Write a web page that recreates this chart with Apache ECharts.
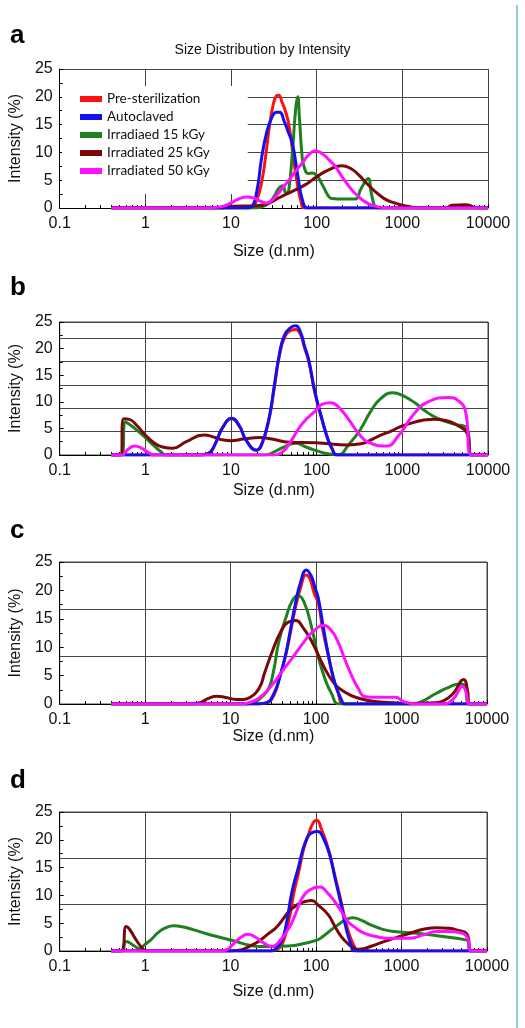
<!DOCTYPE html>
<html><head><meta charset="utf-8">
<script src="https://cdn.jsdelivr.net/npm/echarts@6/dist/echarts.min.js"></script>
<style>html,body{margin:0;padding:0;background:#fff}#c{width:525px;height:1028px}</style>
</head><body><div id="c"></div>
<script>
// ---------- DATA ----------
const seriesNames = ['Pre-sterilization', 'Autoclaved', 'Irradiaed 15 kGy', 'Irradiated 25 kGy', 'Irradiated 50 kGy'];
const panelLetters = ['a', 'b', 'c', 'd'];
const chartTitle = 'Size Distribution by Intensity';
const xName = 'Size (d.nm)';
const yName = 'Intensity (%)';

// Panel a  [size (d.nm), intensity (%)]
const a_pre  = [[0.4,0],[10,0],[17,0],[20,1.5],[23,5],[25.7,10],[28,14.5],[31,18.5],[34,20.2],[36,20.3],[39,19.2],[44,17],[48,14.5],[53,9.5],[60,3.9],[66,1],[71,0],[100,0],[10000,0]];
const a_auto = [[0.4,0],[10,0],[15,0],[17.3,0.2],[20,3],[22.6,8.7],[26,13.5],[30,16.3],[34,17.2],[37,17.2],[42,15.5],[47,13.5],[52,11.7],[60,6],[68,1.5],[78,0],[100,0],[10000,0]];
const a_15   = [[0.4,0],[10,0],[20,0],[26,0.6],[31,1.8],[36,3.5],[40,4],[44,2.7],[47,3],[52,10],[57,18],[60,20],[63,16],[67,10],[71,7.5],[80,6.2],[89,6.3],[100,5.9],[120,3.8],[138,2.1],[150,1.7],[200,1.6],[282,1.6],[330,3.5],[400,5.3],[430,3],[470,0.5],[500,0],[1000,0],[10000,0]];
const a_25   = [[0.4,0],[8,0],[10,0.3],[20,0.4],[28,0.9],[36,1.8],[52,3],[74,4.2],[100,5.6],[140,6.9],[197,7.6],[250,7.1],[307,6],[380,4.5],[478,3],[600,1.8],[740,1.1],[1150,0.3],[1600,0],[3200,0],[3800,0.5],[5500,0.6],[6500,0.3],[7500,0],[10000,0]];
const a_50   = [[0.4,0],[5,0],[7.5,0.2],[10,0.9],[12.5,1.7],[15.2,2.0],[19,1.7],[23,1.1],[26,0.9],[32,1.8],[40,3.6],[48,5.1],[58,6.8],[68,8.1],[80,9.5],[97,10.3],[120,9.6],[140,8.6],[165,7.5],[200,5.5],[256,3.3],[320,1.8],[400,0.8],[520,0.2],[700,0],[10000,0]];

// Panel b
const b_pre  = [[0.4,0],[4.5,0],[5.5,0.3],[6.5,2],[8,5.2],[10.2,6.8],[12.5,5.4],[15,2.8],[19.8,0.9],[23,2.1],[28,7],[32,12.7],[36.7,18.6],[42,22],[50,23.4],[57,23.6],[65,22.6],[72,20.2],[81,17.5],[95,11.8],[116,6.5],[135,3],[151,1.2],[173,0],[1000,0],[10000,0]];
const b_auto = [[0.4,0],[4.5,0],[5.5,0.3],[6.5,2],[8,5.2],[10.2,6.9],[12.5,5.5],[15,2.8],[19.8,0.9],[23,2.2],[28,7.2],[32,13],[36.7,19],[42,22.5],[50,24],[57,24.3],[65,23],[72,20.5],[81,17.8],[95,12],[116,6.6],[135,3],[151,1.2],[173,0],[1000,0],[10000,0]];
const b_15   = [[0.4,0],[0.53,0],[0.58,6.2],[0.63,5.9],[0.75,5],[0.98,3.4],[1.25,1.8],[1.52,0.6],[1.74,0],[10,0],[25,0],[32,0.6],[40,1.4],[57,2.2],[75,1.5],[100,0.8],[140,0.2],[180,0.1],[235,1.9],[321,4.7],[420,8],[550,10.5],[776,11.7],[1000,11.2],[1400,9.8],[1800,8.4],[2570,6.9],[4000,5.8],[5680,5],[6460,0],[10000,0]];
const b_25   = [[0.4,0],[0.51,0],[0.56,6.8],[0.65,6.7],[0.8,5.5],[0.98,3.9],[1.28,2.2],[1.6,1.5],[2.07,1.25],[3,2.5],[4.8,3.75],[6.5,3.3],[8.2,2.8],[10,2.7],[14,3],[21.6,3.3],[30,3],[48,2.4],[98,2.3],[235,1.9],[330,2.1],[450,3],[570,3.8],[740,4.5],[1060,5.6],[2350,6.7],[3200,6.5],[4370,5.6],[5680,4.1],[6460,0],[10000,0]];
const b_50   = [[0.4,0],[0.53,0],[0.62,1],[0.75,1.7],[0.9,1.3],[1.1,0.4],[1.28,0],[10,0],[30,0],[40,0.6],[50,2.6],[68,5.9],[98,8.4],[115,9.5],[145,9.8],[180,9],[240,6.5],[307,4.1],[400,2.4],[650,1.7],[900,3.6],[1380,7.8],[2000,10],[3490,10.8],[4500,10.2],[5430,8.4],[6460,0],[10000,0]];

// Panel c
const c_pre  = [[0.4,0],[10,0],[20,0],[26,0.2],[32,1.5],[38,5],[44,8.5],[50,12.5],[57,16.8],[66,20.5],[76,22.7],[85,22],[95,19.5],[106,17.8],[120,13],[139,8.5],[160,4.5],[180,2.1],[215,0],[1000,0],[10000,0]];
const c_auto = [[0.4,0],[10,0],[20,0],[26,0.2],[32,1.8],[38,5],[44,8.7],[50,13],[57,17.5],[66,21.5],[77,23.6],[88,22.5],[97,20.5],[106,18.7],[120,14],[139,8.7],[160,4.5],[180,2.2],[200,0.6],[215,0],[1000,0],[10000,0]];
const c_15   = [[0.4,0],[10,0],[15,0],[19,0.3],[23,1.2],[28,2.8],[32,6],[36.7,11],[45,15.5],[52,18],[61,19.1],[72,18],[89,13.4],[105,8.5],[126,4.6],[150,2],[189,0],[1300,0],[1640,0.3],[2500,1.8],[3500,2.9],[4800,3.5],[5500,3.2],[6200,0],[10000,0]];
const c_25   = [[0.4,0],[3.5,0],[4.5,0.3],[5.5,1],[6.9,1.35],[8.5,1.2],[11.6,0.8],[14,0.8],[16.6,1.1],[21.6,2.8],[25,5.5],[30.8,9.3],[38,12.5],[47,14.4],[58,14.7],[70,13.5],[89,11],[126,6.3],[160,3.8],[197,2.5],[307,1.05],[622,0.3],[1200,0.1],[2500,0.2],[3050,0.5],[4000,1.8],[5330,4.3],[5900,2.5],[6200,0],[10000,0]];
const c_50   = [[0.4,0],[10,0],[13,0],[16,0.2],[21.6,1.05],[30,3.2],[40,5.75],[52,8],[68,10.4],[90,12.6],[124,13.8],[150,13],[180,11],[215,8],[257,5.2],[310,2.8],[366,1.35],[450,1.2],[600,1.2],[850,1.2],[1060,0.4],[1510,0],[3050,0],[4000,0.8],[5200,3.1],[5700,2],[6200,0],[10000,0]];

// Panel d
const d_pre  = [[0.4,0],[10,0],[30,0],[35,0.3],[40,1.1],[48,5.5],[55,10.5],[62.6,14.2],[72,18.5],[81,20.8],[92,23],[102,23.5],[115,22],[139,18.4],[160,14.5],[189,10],[220,5.5],[246,2.9],[280,0.8],[307,0],[1000,0],[10000,0]];
const d_auto = [[0.4,0],[10,0],[30,0],[34,0.4],[40,2],[45,5],[52,10.5],[62,15],[75,19.6],[90,21.3],[105,21.5],[120,20.5],[145,17.2],[170,12.5],[197,8.3],[225,4],[257,1.1],[280,0],[1000,0],[10000,0]];
const d_15   = [[0.4,0],[0.53,0],[0.6,1.7],[0.75,0.9],[0.85,0.4],[0.98,1.1],[1.2,2.2],[1.39,3.2],[1.7,4.1],[2.17,4.55],[2.8,4.3],[3.7,3.8],[5,3.2],[6.9,2.6],[11.6,1.7],[16,1.1],[21.6,0.8],[48,0.9],[75,1.4],[100,1.9],[115,2.4],[150,3.8],[180,4.7],[220,5.6],[269,6],[340,5.5],[436,4.7],[600,3.9],[810,3.5],[1500,3.2],[3050,2.6],[5680,2],[6000,1.8],[6460,0],[10000,0]];
const d_25   = [[0.4,0],[0.52,0],[0.6,4.4],[0.65,4],[0.8,1.8],[0.95,0.3],[1.05,0],[9.8,0],[12,0.1],[13.9,0.3],[17,0.9],[21.6,1.8],[27,3],[33.6,4.1],[40,5.5],[48,7.1],[60,8.3],[75,8.9],[89,9.1],[105,8.3],[139,6.5],[165,4.5],[197,2.6],[240,1.2],[282,0.5],[320,0.3],[450,0.9],[622,1.7],[900,2.5],[1260,3.2],[1800,3.9],[2570,4.2],[3500,4.1],[4370,3.8],[5900,2.9],[6460,0],[10000,0]];
const d_50   = [[0.4,0],[7.5,0],[8.9,0.2],[10.5,1.1],[13,2.4],[15.9,3],[19,2.6],[24,1.5],[30.8,0.8],[36,1.5],[48,4.1],[58,6.8],[68,9.4],[85,11],[111,11.5],[135,10.5],[165,8.9],[200,7],[235,5.3],[300,4],[366,3.2],[500,2.6],[680,2.3],[1260,2.3],[1800,2.9],[2570,3.5],[3500,3.5],[4800,3.3],[5900,2.4],[6460,0],[10000,0]];

const panels = [
  [a_pre, a_auto, a_15, a_25, a_50],
  [b_pre, b_auto, b_15, b_25, b_50],
  [c_pre, c_auto, c_15, c_25, c_50],
  [d_pre, d_auto, d_15, d_25, d_50]
];

// ---------- LAYOUT / STYLE ----------
const colors = ['#ff1010', '#1010f0', '#1e801e', '#7a0808', '#ff10ff'];
const drawOrder = [0, 2, 3, 1, 4];
const grids = [
  {left: 54, top: 69, width: 434, height: 139},
  {left: 54, top: 322, width: 434, height: 133},
  {left: 53, top: 562, width: 434, height: 142},
  {left: 53, top: 812, width: 434, height: 139}
];
const xNameGap = [36, 28, 22, 33];
const gridSpacing = [5, 4.4, 25 / 3, 25 / 3];
const letterBase = [43, 295, 538, 788];
const FONT = 'Liberation Sans, Arial, sans-serif';

const chart = echarts.init(document.getElementById('c'), null, {renderer: 'canvas'});

const xAxes = [], yAxes = [], series = [], gridOpts = [];
grids.forEach((g, i) => {
  gridOpts.push(Object.assign({
    show: i > 0, borderColor: '#444', borderWidth: 1, backgroundColor: 'transparent', containLabel: false
  }, g));
  xAxes.push({
    gridIndex: i, type: 'log', logBase: 10, min: 0.1, max: 10000,
    name: xName, nameLocation: 'middle', nameGap: xNameGap[i],
    nameTextStyle: {fontFamily: FONT, fontSize: 16, color: '#111'},
    axisLine: {show: true, lineStyle: {color: '#000', width: 1}},
    axisTick: {show: true, inside: true, length: 4, lineStyle: {color: '#000'}},
    minorTick: {show: true, splitNumber: 9, length: 3, lineStyle: {color: '#000'}},
    axisLabel: {fontFamily: FONT, fontSize: 16, color: '#111', margin: 8,
      formatter: v => String(+v.toPrecision(6))},
    splitLine: {show: true, lineStyle: {color: '#444', width: 1}},
    minorSplitLine: {show: false}
  });
  yAxes.push({
    gridIndex: i, type: 'value', min: 0, max: 25, interval: 5,
    name: yName, nameLocation: 'middle', nameGap: 29, nameRotate: 90,
    nameTextStyle: {fontFamily: FONT, fontSize: 16, color: '#111'},
    axisLine: {show: true, lineStyle: {color: '#000', width: 1}},
    axisTick: {show: true, inside: true, length: 4, lineStyle: {color: '#000'}},
    minorTick: {show: true, splitNumber: 2, length: 3, lineStyle: {color: '#000'}},
    axisLabel: {fontFamily: FONT, fontSize: 16, color: '#111', margin: 7},
    splitLine: {show: i === 0, lineStyle: {color: '#444', width: 1}}
  });
  yAxes.push({
    gridIndex: i, type: 'value', min: 0, max: 25, interval: gridSpacing[i], position: 'left',
    show: i > 0,
    axisLine: {show: false}, axisTick: {show: false}, axisLabel: {show: false},
    splitLine: {show: i > 0, lineStyle: {color: '#444', width: 1}}
  });
  drawOrder.forEach(k => {
    series.push({
      name: seriesNames[k], type: 'line', xAxisIndex: i, yAxisIndex: 2 * i,
      data: panels[i][k], showSymbol: false, smooth: 0.5,
      lineStyle: {color: colors[k], width: 3}, itemStyle: {color: colors[k]},
      z: 2 + drawOrder.indexOf(k) * 0.01, clip: true
    });
  });
});

const graphics = panelLetters.map((l, i) => ({
  type: 'text', left: 10, top: letterBase[i] - 20,
  style: {text: l, fontFamily: FONT, fontSize: 26, fontWeight: 'bold', fill: '#000'}
}));
graphics.push({
  type: 'line', shape: {x1: 517, y1: 5, x2: 517, y2: 1028},
  style: {stroke: '#8fd0dc', lineWidth: 2}
});

chart.setOption({
  animation: false,
  backgroundColor: '#fff',
  title: {text: chartTitle, left: 'center', top: 38,
    textStyle: {fontFamily: FONT, fontSize: 14, fontWeight: 'normal', color: '#111'}},
  legend: {
    data: seriesNames, left: 62, top: 86, orient: 'vertical',
    backgroundColor: '#fff', padding: [6, 38, 16, 18],
    icon: 'rect', itemWidth: 22, itemHeight: 6, itemGap: 4,
    textStyle: {fontFamily: 'Lato, Open Sans, sans-serif', fontSize: 13.5, color: '#111', lineHeight: 13.7},
    selectedMode: false
  },
  grid: gridOpts,
  xAxis: xAxes,
  yAxis: yAxes,
  series: series,
  graphic: graphics
});
</script>
</body></html>
